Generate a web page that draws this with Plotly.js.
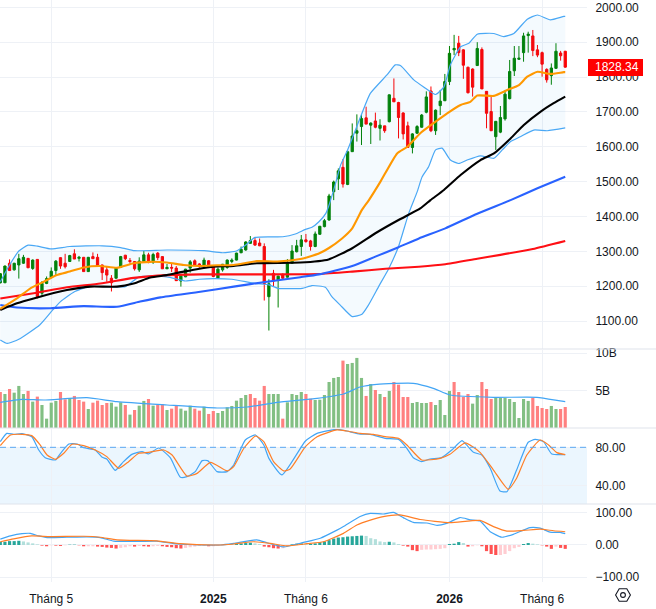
<!DOCTYPE html>
<html><head><meta charset="utf-8">
<script src="https://cdn.plot.ly/plotly-3.0.1.min.js"></script>
<style>html,body{margin:0;padding:0;background:#fff}</style></head>
<body><div id="chart" style="width:656px;height:609px"></div>
<script>
const opens=[1210,1210,1266,1247,1261,1266,1280,1251,1277,1180,1208,1225,1245,1282,1266,1271,1293,1280,1283,1242,1285,1283,1261,1247,1223,1223,1254,1289,1274,1271,1247,1271,1290,1269,1295,1285,1250,1254,1252,1215,1227,1252,1273,1264,1258,1273,1258,1223,1247,1254,1271,1275,1296,1304,1323,1331,1324,1314,1170,1237,1218,1234,1226,1266,1299,1314,1333,1330,1314,1349,1371,1390,1471,1508,1541,1492,1586,1639,1658,1683,1662,1674,1653,1660,1672,1739,1727,1697,1660,1598,1639,1656,1699,1760,1646,1718,1732,1787,1878,1897,1878,1828,1823,1833,1879,1759,1701,1629,1642,1680,1738,1818,1851,1870,1919,1918,1878,1870,1822,1804,1825,1869,1874];
const highs=[1238,1259,1277,1267,1293,1290,1281,1277,1278,1215,1228,1254,1275,1283,1293,1290,1306,1287,1284,1284,1297,1293,1262,1258,1232,1253,1287,1290,1281,1272,1283,1301,1296,1296,1298,1286,1264,1264,1258,1232,1250,1275,1277,1266,1282,1275,1260,1254,1264,1277,1280,1296,1314,1329,1344,1340,1337,1323,1220,1247,1230,1237,1278,1318,1333,1347,1350,1333,1357,1373,1393,1465,1503,1538,1565,1590,1667,1693,1693,1715,1670,1698,1679,1660,1750,1796,1729,1699,1672,1639,1662,1694,1759,1773,1707,1763,1809,1889,1921,1918,1880,1830,1825,1900,1885,1760,1744,1674,1717,1763,1849,1889,1889,1927,1930,1935,1892,1873,1825,1839,1897,1875,1875];
const lows=[1208,1209,1245,1245,1222,1264,1252,1247,1165,1170,1206,1223,1232,1250,1251,1270,1278,1271,1242,1241,1279,1256,1218,1213,1185,1222,1253,1275,1265,1245,1241,1268,1266,1264,1275,1250,1250,1241,1215,1199,1226,1239,1258,1253,1254,1252,1226,1222,1242,1250,1266,1274,1295,1302,1322,1316,1315,1159,1073,1199,1139,1220,1225,1266,1297,1287,1325,1302,1312,1348,1369,1388,1447,1476,1483,1490,1586,1615,1605,1665,1608,1653,1618,1640,1670,1729,1624,1621,1597,1581,1637,1655,1696,1642,1634,1691,1732,1777,1863,1860,1795,1753,1744,1832,1766,1653,1646,1591,1639,1675,1736,1803,1849,1844,1870,1860,1857,1801,1784,1778,1823,1847,1827];
const closes=[1236,1258,1245,1266,1279,1283,1253,1275,1170,1208,1222,1243,1272,1258,1256,1288,1278,1283,1242,1283,1279,1258,1239,1232,1210,1252,1285,1279,1271,1250,1272,1290,1268,1291,1282,1250,1254,1252,1216,1229,1249,1270,1260,1256,1275,1254,1228,1249,1263,1275,1275,1295,1306,1327,1331,1318,1316,1208,1207,1215,1229,1223,1266,1301,1316,1333,1328,1314,1350,1372,1388,1459,1499,1531,1493,1586,1631,1646,1681,1665,1668,1656,1662,1646,1749,1729,1684,1637,1598,1637,1658,1691,1743,1646,1705,1731,1787,1868,1882,1870,1834,1755,1771,1882,1766,1696,1646,1673,1684,1751,1816,1854,1854,1918,1923,1876,1863,1837,1792,1826,1874,1861,1828.34];

const volumes=[4.82,4.55,5.22,4.73,5.63,4.55,4.96,3.53,4.2,3.08,1.25,3.39,3.62,4.82,3.84,4.02,4.29,3.75,3.53,2.54,3.39,3.66,3.08,3.35,3.39,2.86,3.44,3.08,1.79,2.41,2.99,3.62,3.88,2.99,3.08,3.17,2.41,2.59,2.99,2.59,2.32,2.99,2.59,2.32,2.86,1.88,2.28,2.01,2.28,2.77,2.95,3.66,4.02,4.42,4.55,4.02,3.66,5.63,4.55,4.55,4.55,1.25,3.44,4.55,4.42,4.82,4.55,3.93,3.75,3.79,4.42,6.16,6.7,6.83,9.02,8.57,8.71,9.38,6.7,4.29,5.89,5.09,4.55,4.15,4.96,6.16,5.8,4.15,4.15,3.35,3.48,3.35,3.35,3.48,3.08,3.75,1.74,4.96,6.16,4.82,4.15,4.55,3.26,4.42,6.16,5.22,3.88,4.02,4.02,4.02,3.88,3.48,1.34,3.88,3.62,4.02,2.95,2.68,2.54,2.95,2.54,2.54,2.81];
const volumeSides=("rgrgggrgrg"+"gggrrgrrrg"+"rrrrgggrgr"+"ggrgrrgrrg"+"ggrrgrrggg"+"ggggrrrrgg"+"grggggrrgg"+"gg"+"ggrggggrgr"+"grgrrrrggg"+"grggggrrrr"+"ggrrrggggg"+"gggrrrrggr"+"r").split("");

const macdHist=[10,10,12,12,13,11,8,5,2,-2,-4,-1,-2,-3,-1,1,1,-1,-4,-4,-4,-5,-6,-8,-9,-11,-9,-7,-4,-5,-3,-4,-5,-4,-3,-4,-6,-7,-10,-11,-9,-7,-5,-3,-3,-4,-4,-3,-1,0,1,3,5,6,7,5,3,-5,-7,-10,-11,-10,-3,2,4,5,3,3,5,9,11,15,20,23,24,26,27,28,29,28,21,18,11,9,10,8,3,-2,-5,-16,-19,-15,-14,-14,-13,-12,-10,3,4,9,6,-5,-4,-1,-4,-19,-28,-31,-31,-28,-19,-10,-6,3,6,4,2,-1,-5,-12,-5,-9,-12];

const bbUpperX=[0,2,4,6,8,11,15,22,26,29,36,44,48,51,53,55,61,63.7,65.9,67.3,68.8,70.3,71,72.4,73.5,75,78.1,79.9,83.5,85.3,86.4,89.3,91.5,94,95.8,97.2,99.4,101.2,103,106.6,108.7,110.9,113.8,116,118.8,121.7,122];
const bbUpper=[1213,1261,1301,1318,1315,1307,1314,1316,1311,1302,1304,1302,1296,1301,1318,1340,1342,1350,1363,1369,1385,1409,1433,1495,1548,1591,1696,1753,1806,1835,1833,1792,1771,1750,1772,1835,1887,1897,1923,1925,1916,1925,1966,1978,1964,1974,1974];
const bbLowerX=[0,1.5,4,8.5,11,13,16,19,22,27,30,36,40,43,46,50,55,58,60,65.2,67.3,70.2,71.6,73.4,76,78.1,79.5,81.7,83.9,86,88.2,90,91.1,92.5,94,95.4,97.2,99,100.8,103.7,106.6,108.4,110.2,112.3,115.2,118.1,122];
const bbLower=[1046,1036,1048,1089,1127,1156,1184,1199,1199,1199,1227,1227,1215,1220,1222,1220,1208,1204,1194,1194,1202,1197,1170,1146,1113,1120,1146,1199,1251,1314,1409,1470,1514,1543,1591,1596,1562,1552,1562,1574,1567,1591,1615,1629,1648,1646,1654];
const ma20X=[0,3.6,6.5,9.4,12.2,15,18,21.6,25.2,28.8,32.4,36,39.6,43,46.8,50.4,55.4,59.8,64.8,68.8,70.9,73.8,76,78.1,79.6,82.1,85.7,87.9,90.7,94,96.5,99.4,101.5,103,106.6,109.5,112,113.8,116,118.8,121.7,122];
const ma20=[1135,1165,1194,1213,1232,1242,1254,1258,1253,1266,1270,1268,1261,1258,1260,1261,1272,1271,1278,1294,1309,1337,1366,1419,1447,1500,1581,1600,1639,1672,1696,1720,1729,1747,1746,1763,1777,1801,1815,1809,1814,1814];
const ma50X=[0,3.6,7.2,14.4,19.4,25.2,28.8,32.4,36,39.6,46,50.4,55.4,64.8,70.9,76,81,86,90.7,92.9,95.8,99.4,103.7,106.6,110.2,113,116.7,119.5,122];
const ma50=[1132,1151,1165,1189,1199,1199,1208,1225,1232,1242,1256,1258,1266,1268,1277,1309,1352,1390,1423,1447,1476,1519,1562,1581,1624,1662,1701,1725,1744];
const ma100X=[0,3.6,10.8,18,25.2,30.2,34.6,43.2,50.4,57.6,64.8,68.8,76,81,86,90.4,96.1,103,110.2,116,122];
const ma100=[1146,1139,1137,1143,1141,1156,1168,1184,1199,1213,1226,1234,1258,1285,1312,1337,1366,1408,1447,1481,1514];
const ma200X=[0,7.2,14.4,21.6,28.8,36,43.2,50.4,57.6,68.8,76,83.2,90.4,96.1,103,108,115,122];
const ma200=[1165,1180,1197,1208,1224,1232,1234,1234,1234,1235,1242,1250,1256,1263,1279,1290,1307,1330];

const volMaX=[0,4.7,9.4,18.7,25.2,36,46.8,53.3,59.8,68.4,74.1,77.7,81.3,89.2,93.5,97.1,106.5,115.9,120.9,122];
const volMa=[3.44,3.84,3.75,4.06,3.53,3.08,2.68,2.81,3.44,3.97,4.55,5.49,5.85,5.98,5.31,4.42,4.11,4.11,3.62,3.53];

const stochKX=[0,1.4,2.9,4.7,6.8,8.3,9.7,11.9,13,14.8,16.6,18,20.5,22,23,24.8,26.6,28.4,30.6,32,34.2,36.7,38.9,40.3,42.1,43.6,44.8,46.8,49,50.4,52.9,55.1,56.9,58,60.8,65.9,68.4,72.7,74.8,77.7,79.9,83.1,86,87.8,89.2,91,92.8,95.3,97.5,99.7,100.7,102.2,104,105.8,107.9,109.4,111.5,114,115.5,117.3,119.1,122];
const stochK=[86,94.7,93.7,94.4,91.2,77.2,69.1,66.7,73.7,83.5,83.5,79.6,77.2,69.5,67.7,55.8,64.9,72.6,75.4,73,79.3,69.1,48.4,49.1,54.4,66,66,54.4,54.4,61.4,87.7,93,82.5,68.4,50.9,86.7,94.7,99,97.2,94,93.7,89.5,88.4,79,69.1,64.9,67.7,69.1,77.2,87,82.5,74.7,71.9,57.9,34,33.3,56.1,85.3,88.4,86,73,72.3];
const stochDX=[0,2.2,4.7,6.8,8.6,10.1,11.9,13.7,15.5,18,20.5,23,25.6,27.7,29.9,32,35.3,37.1,40.3,42.5,45.4,49,50.4,52.6,55.1,56.9,59,61.2,62.6,65.9,68.4,72.7,74.8,77.7,80.6,83.1,86,87.8,91,95,97.1,100.4,103.6,106.5,109.7,111.5,113.7,116.6,118.4,120.2,122];
const stochD=[81.8,93,93.7,92.3,82.5,71.9,67.4,73.7,83.2,81.8,77.2,70.2,57.9,64.9,73.7,74.7,77.2,71.9,49.8,52.6,64.2,55.1,59.6,79,91.9,86,64.9,55.1,57.2,80.7,91.2,98.3,97.2,94.7,93.7,91.2,89.5,82.5,66.7,68.4,72.6,84.6,74.7,56.1,35.8,47.4,71.9,87.7,82.5,74.4,72.3];

const macdX=[0,2.2,4.7,6.5,8.3,10.1,14.4,18.7,21.6,24.5,28.8,33.8,38.2,43.2,47.5,50.4,55.4,57.6,61.2,65.5,69.1,72.7,74.1,77.7,79.9,82.7,84.9,87.1,89.2,92.1,94.3,96.4,99.3,101.5,103.6,105.8,108.3,110.8,114.4,116.6,118.7,120.9,122];
const macdLine=[18,28,35,36,28,23,24,25,23,12,11,12,3,0,0,5,16,7,-6,8,21,46,57,88,98,96,101,84,70,68,61,67,85,78,74,41,24,33,54,52,40,39,35];
const macdSignalX=[0,2.9,6.8,10.8,18,21.6,25.2,33.8,38.9,46.8,50.4,54.7,58.3,61.9,66.2,69.8,74.1,77,79.9,82.7,86.3,90.7,97.1,103.6,106.5,109.4,113,116.6,119.5,122];
const macdSignal=[10,19,28,26,27,24,16,13,4,0,3,10,5,-3,4,10,36,62,77,88,93,79,69,76,57,43,45,49,44,41];

const tickIdx=[11,46,66,97,117];
const tickText=["Tháng 5","<b>2025</b>","Tháng 6","<b>2026</b>","Tháng 6"];
const priceTicks=[1100,1200,1300,1400,1500,1600,1700,1800,1900,2000];
const volumeTicks=[5,10], volumeLabels=["5B","10B"];
const stochTicks=[40,80], stochLabels=["40.00","80.00"];
const macdTicks=[-100,0,100], macdLabels=["−100.00","0.00","100.00"];
const lastPrice=closes[closes.length-1];

const W=656,H=609,F='"Liberation Sans",Arial,sans-serif',TXT='#131722',GRID='#eef1f6',SEP='#e0e3eb',PX=587;
const idx=opens.map((_,i)=>i);
const dom=(a,b)=>[1-b/H,1-a/H];
const line=(x,y,color,width,ya,extra)=>Object.assign({type:'scatter',mode:'lines',x,y,yaxis:ya,xaxis:'x',hoverinfo:'skip',showlegend:false,line:{color,width,shape:'spline',smoothing:0.5}},extra||{});
const histColor=macdHist.map((v,i)=>{const p=i?macdHist[i-1]:v;return v>=0?(v>=p?'#26a69a':'#b2dfdb'):(v<p?'#ff5252':'#ffcdd2');});

const traces=[
 line(bbUpperX,bbUpper,'#4aa8f5',1.2,'y'),
 line(bbLowerX,bbLower,'#4aa8f5',1.2,'y',{fill:'tonexty',fillcolor:'rgba(33,150,243,0.05)'}),
 line(ma200X,ma200,'#ff0f14',2.1,'y'),
 line(ma100X,ma100,'#2962ff',2.1,'y'),
 line(ma50X,ma50,'#000000',2.1,'y'),
 line(ma20X,ma20,'#ff9800',2.1,'y'),
 {type:'candlestick',x:idx,open:opens,high:highs,low:lows,close:closes,xaxis:'x',yaxis:'y',hoverinfo:'skip',showlegend:false,whiskerwidth:0,
  increasing:{line:{color:'#008000',width:1},fillcolor:'#008000'},decreasing:{line:{color:'#ff0000',width:1},fillcolor:'#ff0000'}},
 {type:'bar',x:idx,y:volumes,xaxis:'x',yaxis:'y2',hoverinfo:'skip',showlegend:false,width:0.68,marker:{color:volumeSides.map(c=>c==='g'?'#82bf83':'#ff8080'),line:{width:0}}},
 line(volMaX,volMa,'#42a5f5',1.2,'y2'),
 line(stochKX,stochK,'#42a5f5',1.2,'y3'),
 line(stochDX,stochD,'#ff7f27',1.2,'y3'),
 {type:'bar',x:idx,y:macdHist,xaxis:'x',yaxis:'y4',hoverinfo:'skip',showlegend:false,width:0.68,marker:{color:histColor,line:{width:0}}},
 line(macdX,macdLine,'#42a5f5',1.2,'y4'),
 line(macdSignalX,macdSignal,'#ff7f27',1.2,'y4')
];
const yax=(d,r,tv,tt)=>({domain:d,range:r,side:'right',anchor:'x',fixedrange:true,tickmode:'array',tickvals:tv,ticktext:tt,showgrid:true,gridcolor:GRID,gridwidth:1,zeroline:false,showline:false,ticks:'outside',ticklen:5,tickcolor:'rgba(0,0,0,0)',tickfont:{family:F,size:12,color:TXT}});
const seps=[349,428,504].map(p=>({type:'line',xref:'paper',yref:'paper',x0:0,x1:1,y0:1-p/H,y1:1-p/H,line:{color:SEP,width:1.2},layer:'above'}));
const icon='data:image/svg+xml;utf8,'+encodeURIComponent('<svg xmlns="http://www.w3.org/2000/svg" width="18" height="18" viewBox="0 0 18 18"><path d="M5.2 2.8h7.6l3.6 6.2-3.6 6.2H5.2L1.6 9z" fill="none" stroke="#131722" stroke-width="1.1"/><circle cx="9" cy="9" r="2.4" fill="none" stroke="#131722" stroke-width="1.1"/></svg>');
const layout={width:W,height:H,margin:{l:0,r:0,t:0,b:0},paper_bgcolor:'#fff',plot_bgcolor:'#fff',showlegend:false,bargap:0.3,
 font:{family:F,size:12,color:TXT},
 xaxis:{domain:[0,PX/W],range:[-0.065,126.7],anchor:'y4',fixedrange:true,rangeslider:{visible:false},tickmode:'array',tickvals:tickIdx,ticktext:tickText,showgrid:true,gridcolor:GRID,gridwidth:1,zeroline:false,showline:false,ticks:'outside',ticklen:6,tickcolor:'rgba(0,0,0,0)',tickfont:{family:F,size:12,color:TXT}},
 yaxis:yax(dom(0,349),[1020,2021],priceTicks,priceTicks.map(v=>v.toFixed(2))),
 yaxis2:yax(dom(350,428),[0,10.44],volumeTicks,volumeLabels),
 yaxis3:yax(dom(429,504),[20.3,99.3],stochTicks,stochLabels),
 yaxis4:yax(dom(505,582),[-114.6,123.8],macdTicks,macdLabels),
 shapes:seps.concat([
  {type:'rect',xref:'x',yref:'y3',x0:-0.065,x1:126.7,y0:20.3,y1:80,fillcolor:'rgba(33,150,243,0.09)',line:{width:0},layer:'below'},
  {type:'line',xref:'x',yref:'y3',x0:-0.065,x1:126.7,y0:80,y1:80,line:{color:'#5aa7f2',width:1,dash:'6px,4px'},layer:'above'},
  {type:'rect',xref:'paper',yref:'paper',x0:588/W,x1:643/W,y0:1-76/H,y1:1-59/H,fillcolor:'#ff0000',line:{width:0},layer:'above'}
 ]),
 annotations:[{xref:'paper',yref:'y',x:617/W,y:lastPrice,xanchor:'center',yanchor:'middle',text:lastPrice.toFixed(2),showarrow:false,borderpad:0,font:{family:F,size:12,color:'#fff'}}],
 images:[{source:icon,xref:'paper',yref:'paper',x:623/W,y:1-595/H,sizex:18/W,sizey:18/H,xanchor:'center',yanchor:'middle',sizing:'contain',layer:'above'}]
};
Plotly.newPlot('chart',traces,layout,{staticPlot:true,displayModeBar:false});
</script></body></html>
